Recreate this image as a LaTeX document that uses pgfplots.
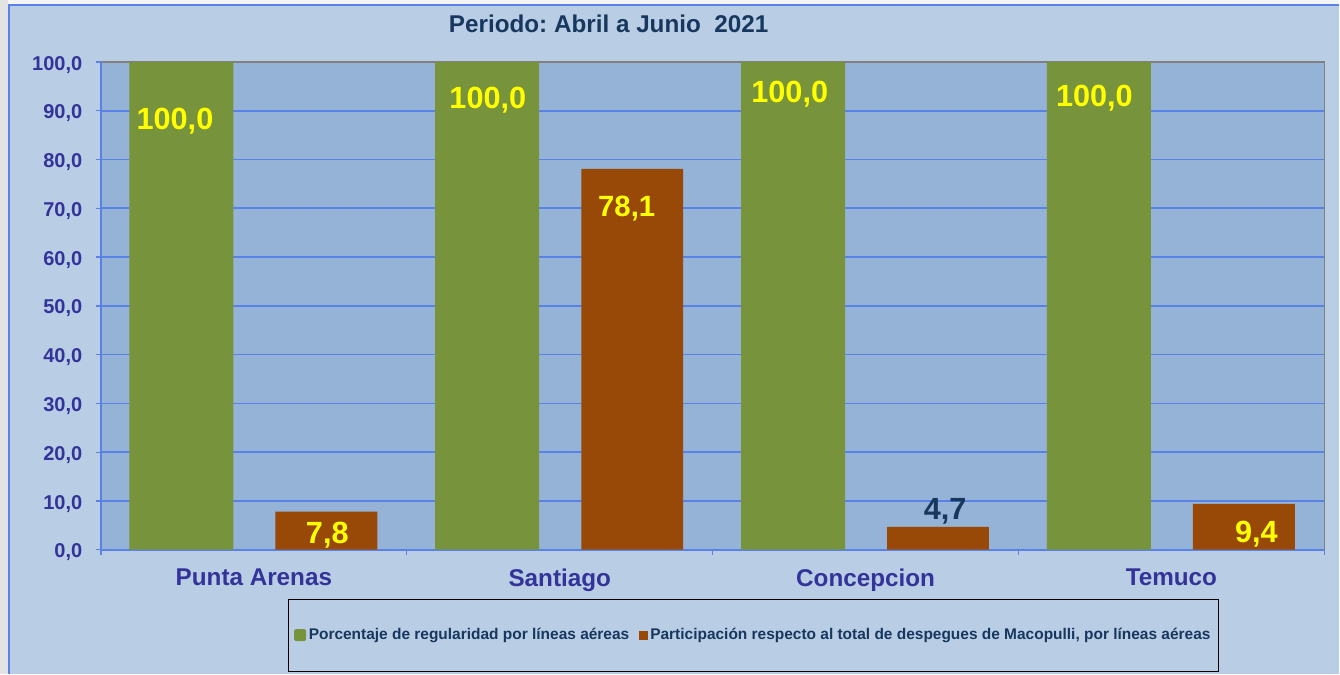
\documentclass[border=0pt]{standalone}
\usepackage{pgfplots}
\pgfplotsset{compat=1.18}
\usepackage{fontspec}
\setmainfont{Liberation Sans}
\frenchspacing
\definecolor{bgcol}{HTML}{B9CDE5}
\definecolor{plotbg}{HTML}{95B3D7}
\definecolor{gridcol}{HTML}{5A82E6}
\definecolor{barG}{HTML}{77933C}
\definecolor{barO}{HTML}{984807}
\definecolor{tickcol}{HTML}{333399}
\definecolor{navy}{HTML}{17375E}
\definecolor{lblY}{HTML}{FFFF00}
\definecolor{frameGray}{HTML}{808080}
\begin{document}
\begin{tikzpicture}
% page background (image 1340x674 px, 1px = 0.75pt; plot area origin at image (101,550))
\fill[gray!8] (-75.75pt,-93pt) rectangle (929.25pt,412.5pt);
\fill[gray!22] (-75.75pt,-93pt) rectangle (-69.75pt,412.5pt);
\fill[bgcol] (-69pt,-93pt) rectangle (929.25pt,408.75pt);
\draw[gridcol, line width=1pt] (-69pt,-93pt) -- (-69pt,408.75pt) -- (929.25pt,408.75pt);
\begin{axis}[
  at={(0,0)}, anchor=south west,
  scale only axis, width=918pt, height=366pt,
  xmin=-0.5, xmax=3.5, ymin=0, ymax=100,
  axis background/.style={fill=plotbg},
  axis line style={draw=none},
  clip=false,
  ytick={0,10,...,100},
  ymajorgrids, grid style={gridcol, line width=1.2pt},
  tick align=outside, major tick length=4pt,
  tick style={gridcol, line width=1pt},
  ytick pos=left, xtick pos=bottom,
  xtick={-0.5,0.5,1.5,2.5,3.5}, xticklabels={},
  extra x ticks={0,1,2,3},
  extra x tick labels={Punta Arenas,Santiago,Concepcion,Temuco},
  extra x tick style={major tick length=0pt, tick style={draw=none},
    xticklabel style={font=\fontsize{18.2}{22}\selectfont\bfseries, text=tickcol, yshift=-11pt}},
  /pgf/number format/.cd, fixed, fixed zerofill, precision=1, use comma, assume math mode=true,
  /pgfplots/.cd,
  yticklabel style={font=\fontsize{15}{18}\selectfont\bfseries, text=tickcol, xshift=-6.5pt, yshift=-2pt},
  title={Periodo: Abril a Junio~~2021},
  title style={at={(0.415,1.062)}, anchor=center, font=\fontsize{18.2}{22}\selectfont\bfseries, text=navy},
  legend columns=2,
  legend style={at={(0.5335,-0.175)}, anchor=center, draw=black, line width=0.8pt, fill=none,
    font=\fontsize{11.6}{14}\selectfont\bfseries, text=navy,
    inner xsep=4pt, inner ysep=20pt,
    /tikz/every even column/.append style={column sep=5pt}},
]
\draw[frameGray, line width=1.2pt] (rel axis cs:0,1) -- (rel axis cs:1,1) -- (rel axis cs:1,0);
\draw[gridcol, line width=1.2pt] (rel axis cs:0,1) -- (rel axis cs:0,0) -- (rel axis cs:1,0);
\addplot[ybar, bar width=0.34, bar shift=-0.237, fill=barG, draw=none,
  legend image code/.code={\fill[barG, rounded corners=1.2pt] (0pt,-4.5pt) rectangle (9pt,4.5pt);}]
  coordinates {(0,100) (1,100) (2,100) (3,100)};
\addlegendentry{Porcentaje de regularidad por líneas aéreas}
\addplot[ybar, bar width=0.333, bar shift=0.237, fill=barO, draw=none,
  legend image code/.code={\fill[barO] (0pt,-3.4pt) rectangle (6.8pt,3.4pt);}]
  coordinates {(0,7.8) (1,78.1) (2,4.7) (3,9.4)};
\addlegendentry{Participación respecto al total de despegues de Macopulli, por líneas aéreas}
\begin{scope}[every node/.style={font=\fontsize{23}{26}\selectfont\bfseries, text=lblY, anchor=base, inner sep=0pt}]
\node at (axis cs:-0.258,86.07) {100,0};
\node at (axis cs:0.765,90.5) {100,0};
\node at (axis cs:1.752,91.66) {100,0};
\node at (axis cs:2.748,90.85) {100,0};
\node at (axis cs:0.240,1.37) {7,8};
\node[font=\fontsize{22}{26}\selectfont\bfseries] at (axis cs:1.219,68.3) {78,1};
\node[text=navy] at (axis cs:2.26,6.15) {4,7};
\node at (axis cs:3.278,1.43) {9,4};
\end{scope}
\end{axis}
\end{tikzpicture}
\end{document}
